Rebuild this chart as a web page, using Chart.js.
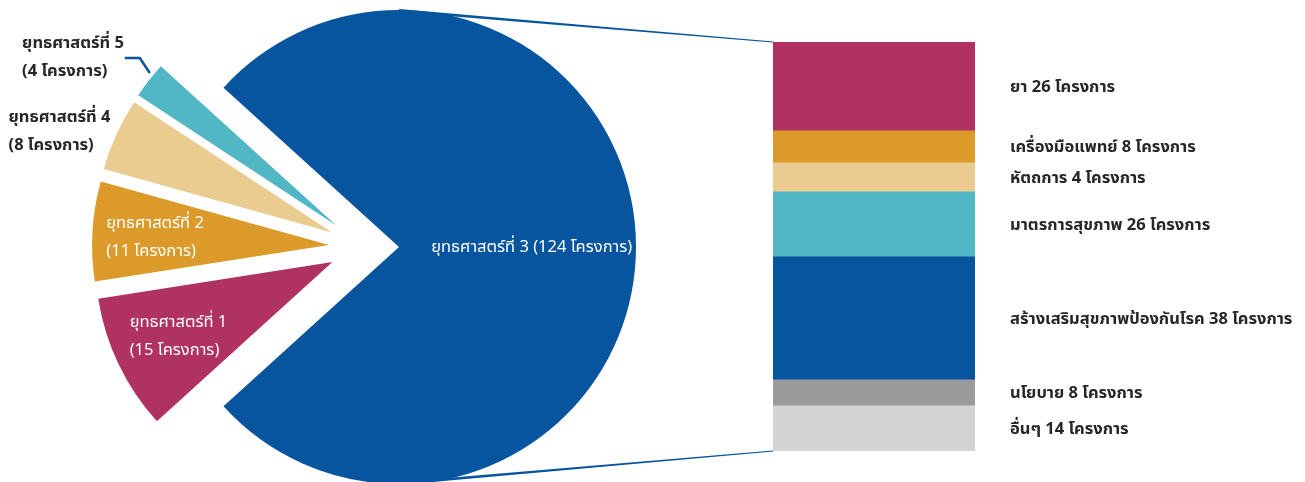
<!DOCTYPE html>
<html><head><meta charset="utf-8">
<script src="https://cdn.jsdelivr.net/npm/chart.js@4.4.0/dist/chart.umd.min.js"></script>
<style>
html,body{margin:0;padding:0;background:#fff;overflow:hidden;}
#wrap{position:relative;width:1305px;height:482px;}
canvas{position:absolute;left:0;top:0;}
</style></head><body>
<div id="wrap"><canvas id="pie" width="1305" height="482"></canvas><canvas id="bar" width="1305" height="482"></canvas></div>
<script>
// ---- data ----
const strategyLabels = ['ยุทธศาสตร์ที่ 3', 'ยุทธศาสตร์ที่ 1', 'ยุทธศาสตร์ที่ 2', 'ยุทธศาสตร์ที่ 4', 'ยุทธศาสตร์ที่ 5'];
const strategyProjects = [124, 15, 11, 8, 4];
const strategyColors = ['#08559F', '#B03260', '#DC9A2A', '#EACC91', '#52B7C4'];

const subLabels = ['ยา', 'เครื่องมือแพทย์', 'หัตถการ', 'มาตรการสุขภาพ', 'สร้างเสริมสุขภาพป้องกันโรค', 'นโยบาย', 'อื่นๆ'];
const subProjects = [26, 8, 4, 26, 38, 8, 14];
// bar segment sizes as drawn in the picture
const subBarValues = [26.7, 9.7, 8.8, 19.7, 37.3, 7.9, 13.9];
const subColors = ['#B03260', '#DC9A2A', '#EACC91', '#52B7C4', '#08559F', '#9B9B9B', '#D4D4D4'];

const unitWord = 'โครงการ';
const FONT = 'Tahoma, "Noto Sans Thai", "Leelawadee UI", "Noto Sans", sans-serif';
const DARK = '#262626';
const FSIZE = 16.5;

const total = strategyProjects.reduce((a, b) => a + b, 0);
const rotationDeg = 90 - (strategyProjects[0] / total * 360) / 2;

// label placement relative to each slice: radial factor, angle tweak (deg), colour, weight
const pieLabelSpec = [
  { r: 0.56, dA: 0, color: '#ffffff', weight: 'normal', oneLine: true },
  { r: 0.72, dA: 0, color: '#ffffff', weight: 'normal' },
  { r: 0.735, dA: -0.5, color: '#ffffff', weight: 'normal' },
  { r: 1.228, dA: -4, color: DARK, weight: 'bold' },
  { r: 1.32, dA: -5.1, color: DARK, weight: 'bold', leader: true }
];

const explodePlugin = {
  id: 'explode',
  afterDatasetsUpdate(chart, args, opts) {
    const meta = chart.getDatasetMeta(0);
    meta.data.forEach(arc => {
      const mid = (arc.startAngle + arc.endAngle) / 2;
      arc.x += Math.cos(mid) * opts.distance;
      arc.y += Math.sin(mid) * opts.distance;
    });
  }
};

const pieLabelPlugin = {
  id: 'pieLabels',
  afterDatasetsDraw(chart) {
    const ctx = chart.ctx;
    const meta = chart.getDatasetMeta(0);
    meta.data.forEach((arc, i) => {
      const spec = pieLabelSpec[i];
      const R = arc.outerRadius;
      const mid = (arc.startAngle + arc.endAngle) / 2;
      const ang = mid + spec.dA * Math.PI / 180;
      const cx = arc.x + Math.cos(ang) * spec.r * R;
      const cy = arc.y + Math.sin(ang) * spec.r * R;
      const lines = spec.oneLine
        ? [strategyLabels[i] + ' (' + strategyProjects[i] + ' ' + unitWord + ')']
        : [strategyLabels[i], '(' + strategyProjects[i] + ' ' + unitWord + ')'];
      ctx.save();
      ctx.font = spec.weight + ' ' + FSIZE + 'px ' + FONT;
      ctx.fillStyle = spec.color;
      ctx.textBaseline = 'middle';
      ctx.textAlign = 'left';
      const w = Math.max(...lines.map(l => ctx.measureText(l).width));
      const lh = 28;
      const left = cx - w / 2;
      const top = cy - (lines.length - 1) * lh / 2 + 2;
      lines.forEach((l, k) => ctx.fillText(l, left, top + k * lh));
      if (spec.leader) {
        const a2 = mid + 1.5 * Math.PI / 180;
        const p0x = arc.x + Math.cos(a2) * (R + 4);
        const p0y = arc.y + Math.sin(a2) * (R + 4);
        ctx.strokeStyle = '#08559F';
        ctx.lineWidth = 2.5;
        ctx.beginPath();
        ctx.moveTo(p0x, p0y);
        ctx.lineTo(p0x - 10, p0y - 15);
        ctx.lineTo(p0x - 25, p0y - 15);
        ctx.stroke();
      }
      ctx.restore();
    });
  }
};

const pieChart = new Chart(document.getElementById('pie'), {
  type: 'pie',
  data: {
    labels: strategyLabels,
    datasets: [{ data: strategyProjects, backgroundColor: strategyColors, borderWidth: 0, radius: 237 }]
  },
  options: {
    responsive: false, animation: false, events: [],
    rotation: rotationDeg,
    radius: 237,
    layout: { padding: { left: 0, right: 577, top: 12, bottom: 0 } },
    plugins: { legend: { display: false }, tooltip: { enabled: false }, explode: { distance: 35 } }
  },
  plugins: [explodePlugin, pieLabelPlugin]
});

const barLabelPlugin = {
  id: 'barLabels',
  afterDatasetsDraw(chart) {
    const ctx = chart.ctx;
    ctx.save();
    ctx.font = 'bold ' + FSIZE + 'px ' + FONT;
    ctx.fillStyle = DARK;
    ctx.textBaseline = 'middle';
    ctx.textAlign = 'left';
    chart.data.datasets.forEach((ds, i) => {
      const el = chart.getDatasetMeta(i).data[0];
      const y = (el.y + el.base) / 2 + 3;
      ctx.fillText(subLabels[i] + ' ' + subProjects[i] + ' ' + unitWord, chart.chartArea.right + 35, y);
    });
    ctx.restore();
  }
};

function taper(ctx, x1, y1, w1, x2, y2, w2) {
  const dx = x2 - x1, dy = y2 - y1, L = Math.hypot(dx, dy);
  const nx = -dy / L, ny = dx / L;
  ctx.beginPath();
  ctx.moveTo(x1 + nx * w1 / 2, y1 + ny * w1 / 2);
  ctx.lineTo(x2 + nx * w2 / 2, y2 + ny * w2 / 2);
  ctx.lineTo(x2 - nx * w2 / 2, y2 - ny * w2 / 2);
  ctx.lineTo(x1 - nx * w1 / 2, y1 - ny * w1 / 2);
  ctx.closePath();
  ctx.fill();
}

const connectorPlugin = {
  id: 'connectors',
  afterDatasetsDraw(chart) {
    const big = pieChart.getDatasetMeta(0).data[0];
    const topEl = chart.getDatasetMeta(0).data[0];
    const botEl = chart.getDatasetMeta(chart.data.datasets.length - 1).data[0];
    const left = topEl.x - topEl.width / 2;
    const ctx = chart.ctx;
    ctx.save();
    ctx.fillStyle = '#08559F';
    taper(ctx, big.x, big.y - big.outerRadius + 0.5, 3, left, topEl.base, 1);
    taper(ctx, big.x, big.y + big.outerRadius - 0.5, 3, left, botEl.y, 1);
    ctx.restore();
  }
};

new Chart(document.getElementById('bar'), {
  type: 'bar',
  data: {
    labels: ['ยุทธศาสตร์ที่ 3'],
    datasets: subLabels.map((l, i) => ({
      label: l, data: [subBarValues[i]], backgroundColor: subColors[i],
      borderWidth: 0, barPercentage: 1, categoryPercentage: 1, stack: 's'
    }))
  },
  options: {
    responsive: false, animation: false, events: [],
    layout: { padding: { left: 773, right: 330, top: 42, bottom: 31 } },
    scales: {
      x: { display: false, stacked: true },
      y: { display: false, stacked: true, reverse: true, min: 0, max: subBarValues.reduce((a, b) => a + b, 0) }
    },
    plugins: { legend: { display: false }, tooltip: { enabled: false } }
  },
  plugins: [barLabelPlugin, connectorPlugin]
});
</script>
</body></html>
